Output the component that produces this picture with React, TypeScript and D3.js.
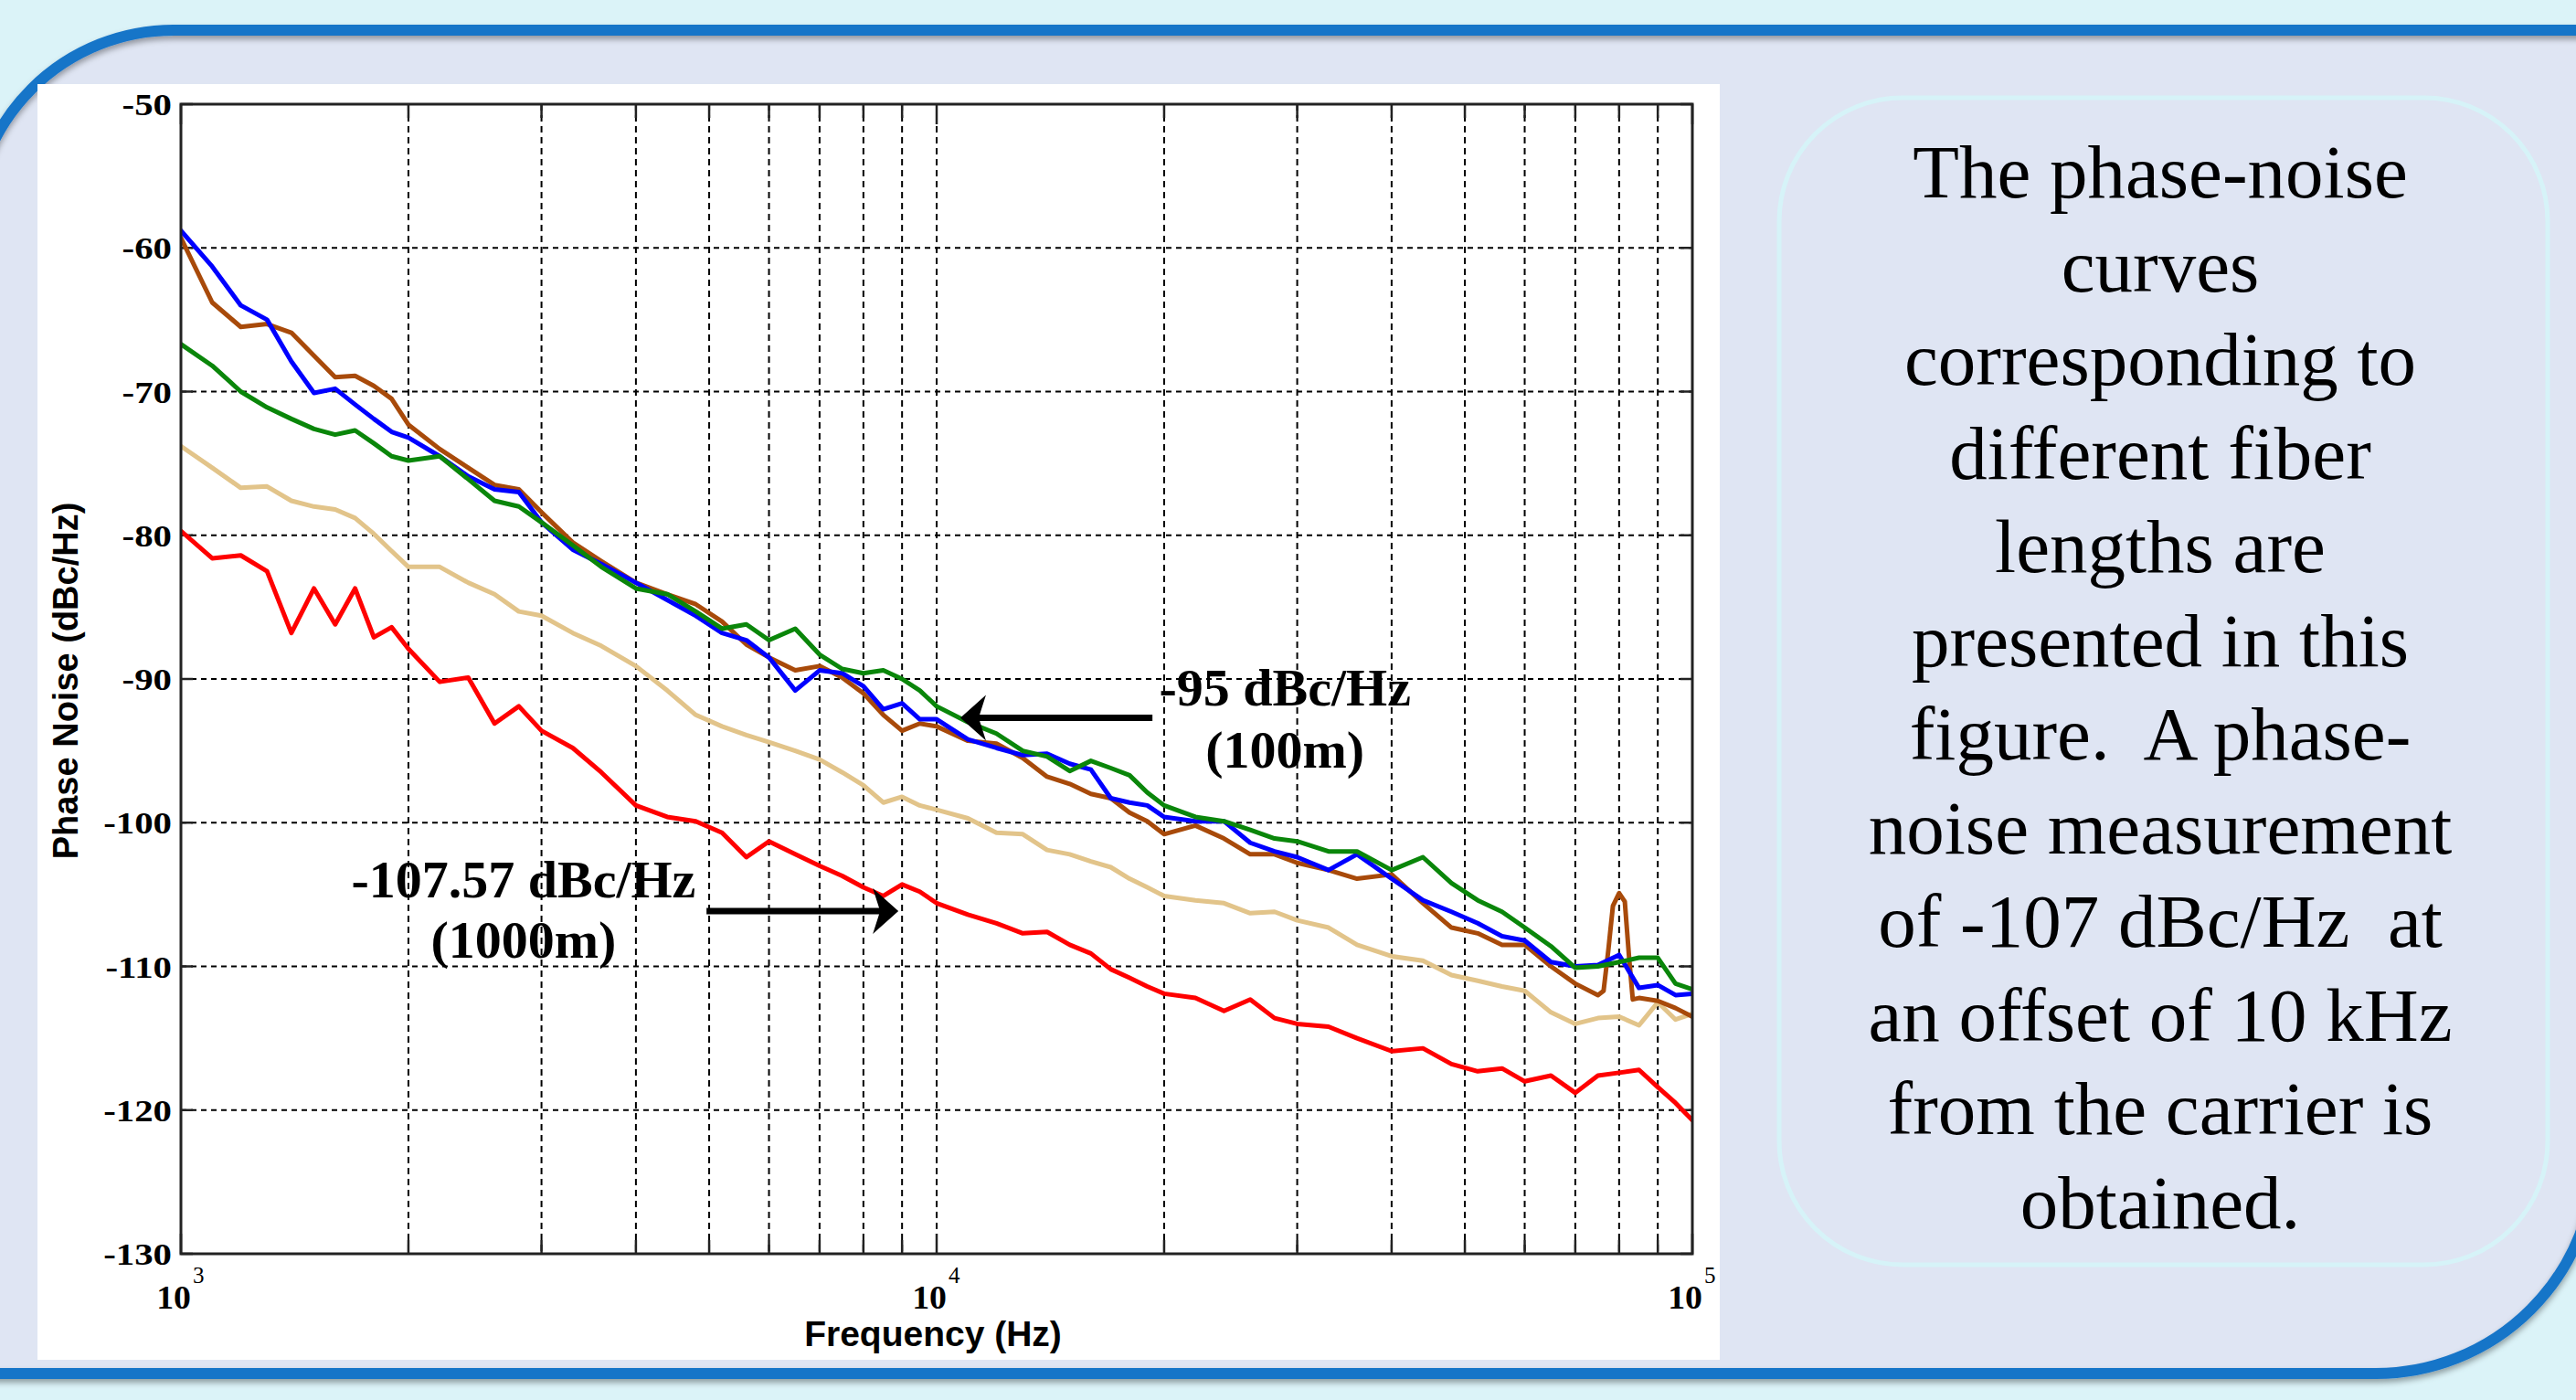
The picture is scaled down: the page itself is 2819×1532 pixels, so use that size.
import React from 'react';
import * as d3 from 'd3';

const W = 2819;
const H = 1532;

// ---------------- data ----------------
const freqs = [1000, 1100, 1200, 1300, 1400, 1500, 1600, 1700, 1800, 1900, 2000, 2200, 2400, 2600, 2800, 3000, 3300, 3600, 4000, 4400, 4800, 5200, 5600, 6000, 6500, 7000, 7500, 8000, 8500, 9000, 9500, 10000, 11000, 12000, 13000, 14000, 15000, 16000, 17000, 18000, 19000, 20000, 22000, 24000, 26000, 28000, 30000, 33000, 36000, 40000, 44000, 48000, 52000, 56000, 60000, 65000, 70000, 75000, 80000, 85000, 90000, 95000, 100000];

const red1000m = [-79.7, -81.6, -81.4, -82.5, -86.8, -83.7, -86.2, -83.7, -87.1, -86.4, -87.9, -90.2, -89.9, -93.1, -91.9, -93.6, -94.8, -96.5, -98.8, -99.6, -99.9, -100.7, -102.4, -101.3, -102.2, -103.0, -103.7, -104.5, -105.1, -104.3, -104.8, -105.6, -106.4, -107.0, -107.7, -107.6, -108.5, -109.1, -110.2, -110.8, -111.4, -111.9, -112.2, -113.1, -112.3, -113.6, -114.0, -114.2, -115.0, -115.9, -115.7, -116.8, -117.3, -117.1, -118.0, -117.6, -118.8, -117.6, -117.4, -117.2, -118.4, -119.5, -120.7];

const tanSeries = [-73.8, -75.3, -76.7, -76.6, -77.6, -78.0, -78.2, -78.8, -79.9, -81.1, -82.2, -82.2, -83.3, -84.1, -85.3, -85.6, -86.8, -87.7, -89.1, -90.8, -92.5, -93.3, -93.9, -94.4, -95.0, -95.6, -96.5, -97.4, -98.6, -98.2, -98.8, -99.1, -99.7, -100.7, -100.8, -101.9, -102.2, -102.7, -103.1, -103.9, -104.5, -105.1, -105.4, -105.6, -106.3, -106.2, -106.8, -107.3, -108.5, -109.3, -109.6, -110.6, -111.0, -111.4, -111.7, -113.2, -114.0, -113.6, -113.5, -114.1, -112.5, -113.7, -113.3];

const blueSeries = [-58.8, -61.3, -64.0, -65.0, -67.9, -70.1, -69.8, -70.9, -71.9, -72.8, -73.2, -74.5, -75.9, -76.8, -77.0, -79.1, -81.0, -82.0, -83.3, -84.5, -85.6, -86.8, -87.3, -88.5, -90.8, -89.4, -89.6, -90.5, -92.1, -91.7, -92.8, -92.8, -94.2, -94.8, -95.3, -95.2, -95.9, -96.3, -98.3, -98.6, -98.8, -99.6, -99.9, -99.9, -101.4, -102.0, -102.4, -103.3, -102.2, -103.9, -105.4, -106.2, -107.0, -107.9, -108.2, -109.7, -110.0, -109.9, -109.2, -111.5, -111.3, -112.0, -111.9];

const greenSeries = [-66.7, -68.2, -70.0, -71.1, -71.9, -72.6, -73.0, -72.7, -73.6, -74.5, -74.8, -74.5, -76.1, -77.6, -78.0, -79.1, -80.7, -82.2, -83.7, -84.1, -85.3, -86.5, -86.2, -87.3, -86.5, -88.3, -89.3, -89.6, -89.4, -90.0, -90.8, -91.9, -93.0, -93.8, -95.0, -95.4, -96.4, -95.7, -96.2, -96.7, -97.9, -98.8, -99.6, -99.9, -100.5, -101.1, -101.3, -102.0, -102.0, -103.3, -102.4, -104.2, -105.4, -106.2, -107.3, -108.6, -110.1, -110.0, -109.7, -109.4, -109.4, -111.2, -111.6];

const brownFreqs = [1000, 1100, 1200, 1300, 1400, 1500, 1600, 1700, 1800, 1900, 2000, 2200, 2400, 2600, 2800, 3000, 3300, 3600, 4000, 4400, 4800, 5200, 5600, 6000, 6500, 7000, 7500, 8000, 8500, 9000, 9500, 10000, 11000, 12000, 13000, 14000, 15000, 16000, 17000, 18000, 19000, 20000, 22000, 24000, 26000, 28000, 30000, 33000, 36000, 40000, 44000, 48000, 52000, 56000, 60000, 65000, 70000, 75000, 76300, 77400, 78500, 80000, 81400, 82500, 83400, 85000, 90000, 95000, 100000];
const brownSeries = [-59.3, -63.8, -65.5, -65.3, -65.9, -67.5, -69.0, -68.9, -69.6, -70.5, -72.3, -74.0, -75.3, -76.5, -76.8, -78.4, -80.5, -81.8, -83.3, -84.1, -84.8, -86.0, -87.6, -88.5, -89.4, -89.1, -89.9, -91.0, -92.5, -93.6, -93.1, -93.3, -94.3, -94.5, -95.5, -96.8, -97.3, -98.0, -98.3, -99.3, -99.9, -100.8, -100.2, -101.1, -102.2, -102.2, -102.8, -103.3, -103.9, -103.6, -105.6, -107.3, -107.7, -108.5, -108.5, -110.0, -111.2, -112.0, -111.7, -108.9, -105.8, -104.9, -105.5, -109.5, -112.3, -112.2, -112.4, -112.9, -113.5];

const seriesList = [
  { name: '1000m', color: '#FF0000', f: freqs, v: red1000m },
  { name: 'tan', color: '#E2C48A', f: freqs, v: tanSeries },
  { name: 'brown', color: '#A84A0A', f: brownFreqs, v: brownSeries },
  { name: 'blue', color: '#0000FF', f: freqs, v: blueSeries },
  { name: 'green', color: '#0A860A', f: freqs, v: greenSeries },
];

const yTicks = [-130, -120, -110, -100, -90, -80, -70, -60, -50];
const xMajor = [{ f: 1e3, exp: '3' }, { f: 1e4, exp: '4' }, { f: 1e5, exp: '5' }];

const annotations = [
  { lines: ['-95 dBc/Hz', '(100m)'], tf: 28900, tv: [-91.85, -96.2], from: [19300, -92.7], to: [10750, -92.7] },
  { lines: ['-107.57 dBc/Hz', '(1000m)'], tf: 2840, tv: [-105.2, -109.4], from: [4960, -106.15], to: [8900, -106.15] },
];

const boxLines = [
  'The phase-noise',
  'curves',
  'corresponding to',
  'different fiber',
  'lengths are',
  'presented in this',
  'figure.  A phase-',
  'noise measurement',
  'of -107 dBc/Hz  at',
  'an offset of 10 kHz',
  'from the carrier is',
  'obtained.',
];

// ---------------- layout ----------------
const X0 = 198, X1 = 1852, Y0 = 114, Y1 = 1372;
const SERIF = '"Liberation Serif", "Times New Roman", serif';
const SANS = '"Liberation Sans", Arial, sans-serif';

export default function App() {
  const x = d3.scaleLog().domain([1e3, 1e5]).range([X0, X1]);
  const y = d3.scaleLinear().domain([-130, -50]).range([Y1, Y0]);
  const line = d3.line<[number, number]>().x(d => x(d[0])).y(d => y(d[1]));
  const gridX = x.ticks().filter(f => f > 1e3 && f < 1e5);
  const allX = x.ticks();

  const borderPath = `M 2845 33 L 190 33 A 220 220 0 0 0 -30 253 L -30 1503 L 2600 1503 A 240 240 0 0 0 2840 1263 Z`;

  return (
    <svg width={W} height={H} style={{ position: 'absolute', left: 0, top: 0, display: 'block' }}>
      <defs>
        <filter id="sh" x="-5%" y="-5%" width="110%" height="110%">
          <feDropShadow dx="0" dy="4" stdDeviation="3" floodColor="#000" floodOpacity="0.35" />
        </filter>
        <clipPath id="plotclip">
          <rect x={X0} y={Y0} width={X1 - X0} height={Y1 - Y0} />
        </clipPath>
      </defs>
      <rect x={0} y={0} width={W} height={H} fill="#DBF3F8" />
      <path d={borderPath} fill="#DFE5F3" stroke="none" />
      <path d={borderPath} fill="none" stroke="#1874C8" strokeWidth={12} filter="url(#sh)" />

      {/* white panel */}
      <rect x={41} y={92} width={1882 - 41} height={1488 - 92} fill="#FFFFFF" />

      {/* grid */}
      <g stroke="#000" strokeWidth={2}>
        {gridX.map((f, i) => (
          <line key={'gx' + i} x1={x(f)} x2={x(f)} y1={Y0} y2={Y1} strokeDasharray="7,5" />
        ))}
        {yTicks.filter(v => v > -130 && v < -50).map((v, i) => (
          <line key={'gy' + i} x1={X0} x2={X1} y1={y(v)} y2={y(v)} strokeDasharray="6,5" />
        ))}
      </g>

      {/* ticks */}
      <g stroke="#222" strokeWidth={2.5}>
        {allX.map((f, i) => {
          const major = xMajor.some(m => m.f === f);
          const len = major ? 22 : 15;
          return (
            <g key={'tx' + i}>
              <line x1={x(f)} x2={x(f)} y1={Y1} y2={Y1 - len} />
              <line x1={x(f)} x2={x(f)} y1={Y0} y2={Y0 + len} />
            </g>
          );
        })}
        {yTicks.map((v, i) => (
          <g key={'ty' + i}>
            <line x1={X0} x2={X0 + 13} y1={y(v)} y2={y(v)} />
            <line x1={X1} x2={X1 - 13} y1={y(v)} y2={y(v)} />
          </g>
        ))}
      </g>

      {/* series */}
      <g clipPath="url(#plotclip)">
        {seriesList.map(s => (
          <path
            key={s.name}
            d={line(s.f.map((f, i) => [f, s.v[i]] as [number, number])) || ''}
            fill="none"
            stroke={s.color}
            strokeWidth={5}
            strokeLinejoin="round"
            strokeLinecap="round"
          />
        ))}
      </g>

      {/* axes box */}
      <rect x={X0} y={Y0} width={X1 - X0} height={Y1 - Y0} fill="none" stroke="#222" strokeWidth={3} />

      {/* y tick labels */}
      <g fontFamily={SERIF} fontWeight="bold" fontSize={34} fill="#000">
        {yTicks.map((v, i) => (
          <text key={'yl' + i} transform={`translate(${X0 - 10},${y(v) + 12}) scale(1.2,1)`} textAnchor="end">
            {String(v)}
          </text>
        ))}
      </g>

      {/* x tick labels */}
      <g fontFamily={SERIF} fontWeight="bold" fill="#000">
        {xMajor.map((m, i) => (
          <g key={'xl' + i}>
            <text transform={`translate(${x(m.f) + 11},1432) scale(1.08,1)`} textAnchor="end" fontSize={35}>10</text>
            <text x={x(m.f) + 13} y={1404} fontSize={25} fontWeight="normal">{m.exp}</text>
          </g>
        ))}
      </g>

      {/* axis labels */}
      <text x={1021} y={1473} textAnchor="middle" fontFamily={SANS} fontWeight="bold" fontSize={39} fill="#000">
        Frequency (Hz)
      </text>
      <text transform={`translate(85,745) rotate(-90)`} textAnchor="middle" fontFamily={SANS} fontWeight="bold" fontSize={38} fill="#000">
        Phase Noise (dBc/Hz)
      </text>

      {/* annotations */}
      {annotations.map((a, i) => {
        const fx = x(a.from[0]), fy = y(a.from[1]);
        const tx = x(a.to[0]), ty = y(a.to[1]);
        const dir = Math.sign(tx - fx);
        const head = `M ${tx} ${ty} L ${tx - dir * 28} ${ty - 25} L ${tx - dir * 20} ${ty} L ${tx - dir * 28} ${ty + 25} Z`;
        return (
          <g key={'an' + i}>
            <line x1={fx} y1={fy} x2={tx - dir * 18} y2={ty} stroke="#000" strokeWidth={7} />
            <path d={head} fill="#000" />
            {a.lines.map((t, j) => (
              <text key={j} x={x(a.tf)} y={y(a.tv[j])} textAnchor="middle" fontFamily={SERIF} fontWeight="bold" fontSize={58} fill="#000">
                {t}
              </text>
            ))}
          </g>
        );
      })}

      {/* text box */}
      <rect x={1947} y={107} width={841} height={1277} rx={135} ry={135} fill="#DFE5F3" stroke="#D6F3F8" strokeWidth={5} />
      <g fontFamily={SERIF} fontSize={83} fill="#000" textAnchor="middle">
        {boxLines.map((t, i) => (
          <text key={'bl' + i} x={2364} y={216 + i * 102.5} style={{ whiteSpace: 'pre' }}>
            {t}
          </text>
        ))}
      </g>
    </svg>
  );
}
